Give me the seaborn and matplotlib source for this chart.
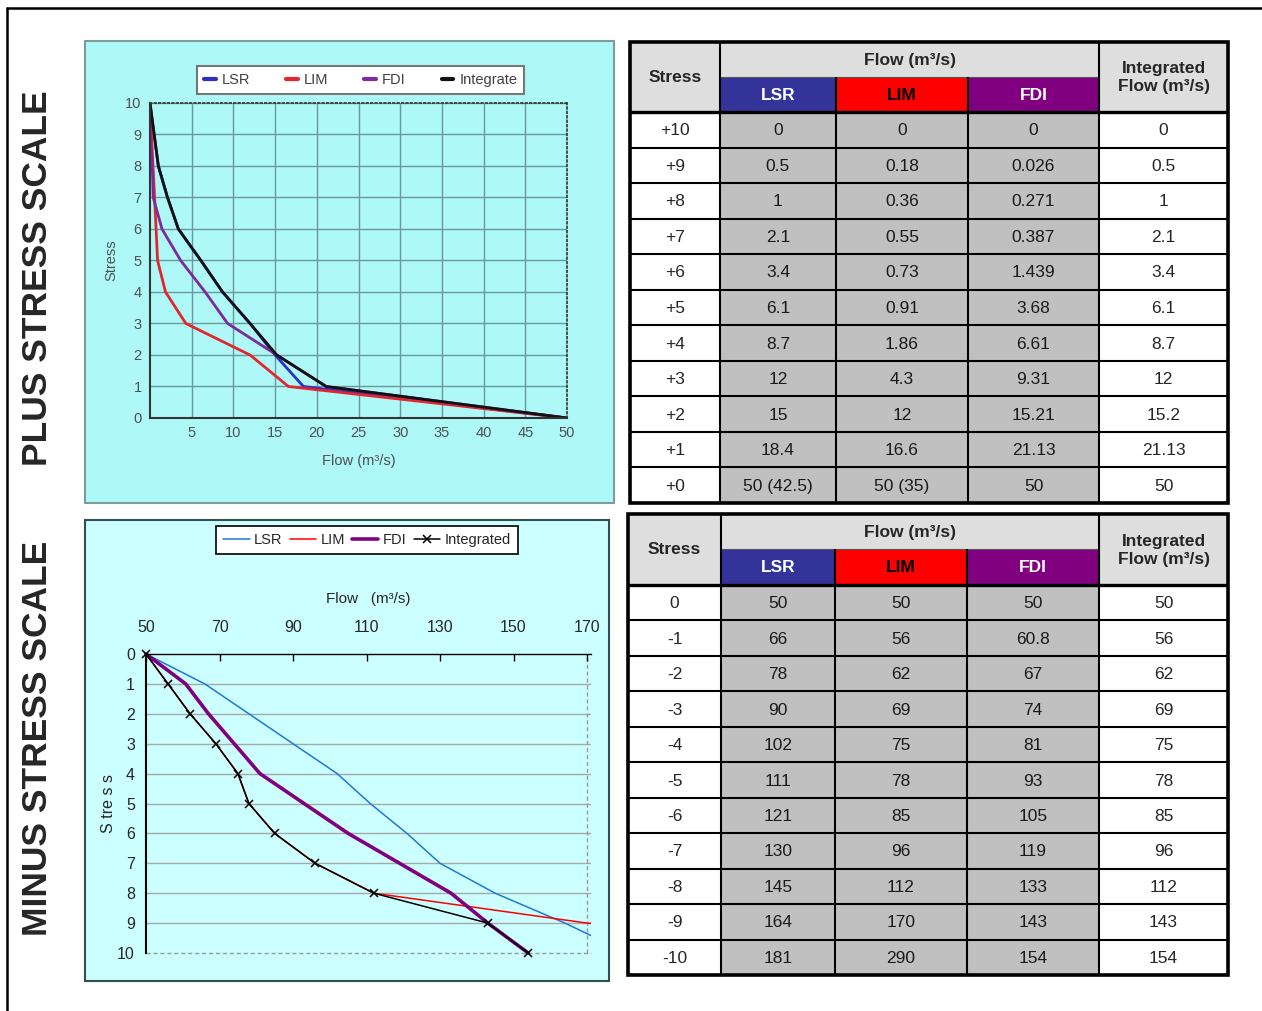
import matplotlib
matplotlib.use("Agg")
import matplotlib.pyplot as plt
import numpy as np
import pandas as pd
import seaborn as sns
from matplotlib.lines import Line2D
from matplotlib.patches import Rectangle
from matplotlib.ticker import MultipleLocator, FixedLocator

# ---------------------------------------------------------------------------
# Plus stress scale (table text; the leading number of each cell is plotted)
plus_stress = ["+10", "+9", "+8", "+7", "+6", "+5", "+4", "+3", "+2", "+1", "+0"]
plus_lsr = ["0", "0.5", "1", "2.1", "3.4", "6.1", "8.7", "12", "15", "18.4", "50 (42.5)"]
plus_lim = ["0", "0.18", "0.36", "0.55", "0.73", "0.91", "1.86", "4.3", "12", "16.6", "50 (35)"]
plus_fdi = ["0", "0.026", "0.271", "0.387", "1.439", "3.68", "6.61", "9.31", "15.21", "21.13", "50"]
plus_integrated = ["0", "0.5", "1", "2.1", "3.4", "6.1", "8.7", "12", "15.2", "21.13", "50"]

# Minus stress scale
minus_stress = ["0", "-1", "-2", "-3", "-4", "-5", "-6", "-7", "-8", "-9", "-10"]
minus_lsr = [50, 66, 78, 90, 102, 111, 121, 130, 145, 164, 181]
minus_lim = [50, 56, 62, 69, 75, 78, 85, 96, 112, 170, 290]
minus_fdi = [50, 60.8, 67, 74, 81, 93, 105, 119, 133, 143, 154]
minus_integrated = [50, 56, 62, 69, 75, 78, 85, 96, 112, 143, 154]

methods = ["LSR", "LIM", "FDI"]
plus_xticks = [5, 10, 15, 20, 25, 30, 35, 40, 45, 50]
plus_yticks = [0, 1, 2, 3, 4, 5, 6, 7, 8, 9, 10]
minus_xticks = [50, 70, 90, 110, 130, 150, 170]
minus_yticks = [0, 1, 2, 3, 4, 5, 6, 7, 8, 9, 10]
# ---------------------------------------------------------------------------

sns.set_style("white")
plt.rcParams["font.family"] = ["Liberation Sans", "DejaVu Sans"]
NARROW = ["Liberation Sans", "DejaVu Sans"]


def lead(s):
    return float(str(s).split()[0])


W, H = 1262, 1011
fig = plt.figure(figsize=(W / 100, H / 100), dpi=100)
fig.patch.set_facecolor("white")


def box(l, t, r, b):
    return [l / W, 1 - b / H, (r - l) / W, (b - t) / H]


def panel(l, t, r, b, fc, ec):
    fig.add_artist(Rectangle((l / W, 1 - b / H), (r - l) / W, (b - t) / H,
                             transform=fig.transFigure, fc=fc, ec=ec, lw=1.5, zorder=0))


# page frame
fig.add_artist(Line2D([7 / W, 1 / 1], [1 - 8 / H, 1 - 8 / H], transform=fig.transFigure,
                      color="black", lw=1.8))
fig.add_artist(Line2D([7 / W, 7 / W], [1 - 8 / H, 0], transform=fig.transFigure,
                      color="black", lw=1.8))

# side titles
fig.text(38 / W, 1 - 278 / H, "PLUS STRESS SCALE", rotation=90, ha="center", va="center",
         fontsize=25.5, fontweight="bold", family=NARROW)
fig.text(38 / W, 1 - 738 / H, "MINUS STRESS SCALE", rotation=90, ha="center", va="center",
         fontsize=25.5, fontweight="bold", family=NARROW)

# ------------------------------ plus chart ---------------------------------
TOP_BG = "#AEF8F8"
panel(85, 41, 614, 503, TOP_BG, "#7F9C9C")
ax1 = fig.add_axes(box(150, 103, 567, 418))
ax1.set_facecolor(TOP_BG)
plus_y = [abs(int(s)) for s in plus_stress]
top_series = [("LSR", plus_lsr, "#2F2FC8"), ("LIM", plus_lim, "#E3262B"),
              ("FDI", plus_fdi, "#7B2B9B"), ("Integrate", plus_integrated, "#111111")]
for name, vals, col in top_series:
    sns.lineplot(x=[lead(v) for v in vals], y=plus_y, ax=ax1, color=col, lw=2.0,
                 sort=False, estimator=None, legend=False)
ax1.set_xlim(0, 50)
ax1.set_ylim(0, 10)
ax1.xaxis.set_major_locator(FixedLocator(plus_xticks))
ax1.yaxis.set_major_locator(FixedLocator(plus_yticks))
ax1.xaxis.set_minor_locator(MultipleLocator(1))
ax1.yaxis.set_minor_locator(MultipleLocator(0.25))
ax1.grid(True, which="major", color="#6B9898", lw=1.0)
ax1.set_axisbelow(True)
ax1.tick_params(which="major", direction="inout", length=6, width=1.2, color="#333333",
                labelsize=10.5, labelcolor="#505050", pad=3)
ax1.tick_params(which="minor", direction="inout", length=3.5, width=1.0, color="#333333")
for s in ["left", "bottom"]:
    ax1.spines[s].set_color("#333333")
    ax1.spines[s].set_linewidth(1.5)
for s in ["top", "right"]:
    ax1.spines[s].set_color("#333333")
    ax1.spines[s].set_linewidth(1.2)
    ax1.spines[s].set_linestyle(":")
ax1.set_xlabel("Flow (m³/s)", fontsize=10.5, color="#505050", labelpad=10)
ax1.set_ylabel("Stress", fontsize=10.5, color="#505050", labelpad=5)
top_handles = [Line2D([], [], color=c, lw=3) for _, _, c in top_series]
leg1 = ax1.legend(top_handles, [n for n, _, _ in top_series], loc="center",
                  bbox_to_anchor=(190 / W, 1 - 95 / H, (531 - 190) / W, 30 / H),
                  bbox_transform=fig.transFigure, mode="expand", ncol=4,
                  handlelength=0.8, handletextpad=0.4, fancybox=False, framealpha=1,
                  edgecolor="#777777", fontsize=10.5, labelcolor="#404040", borderpad=0.45)
leg1.get_frame().set_linewidth(1.5)

# ------------------------------ minus chart --------------------------------
BOT_BG = "#CCFFFF"
panel(85, 520, 609, 981, BOT_BG, "#2F5050")
ax2 = fig.add_axes(box(146, 654, 590.7, 953))
ax2.set_facecolor(BOT_BG)
minus_y = [abs(int(s)) for s in minus_stress]
for v in minus_yticks[1:-1]:
    ax2.axhline(v, color="#A8A8A8", lw=1.0, zorder=0.5)
ax2.axhline(minus_yticks[-1], color="#9A9A9A", lw=1.0, ls=(0, (3, 2)), zorder=0.5, clip_on=False)
ax2.axvline(minus_xticks[-1], color="#9A9A9A", lw=1.0, ls=(0, (3, 2)), zorder=0.5)

bot_series = [("LSR", minus_lsr, "#1F78D6", 1.1, {}),
              ("LIM", minus_lim, "#FF0000", 1.1, {}),
              ("FDI", minus_fdi, "#800080", 2.6, {"clip_on": False}),
              ("Integrated", minus_integrated, "#000000", 1.1,
               {"marker": "x", "ms": 6, "mew": 1.1, "mec": "black", "clip_on": False})]
for name, vals, col, lw, kw in bot_series:
    sns.lineplot(x=vals, y=minus_y, ax=ax2, color=col, lw=lw, sort=False,
                 estimator=None, legend=False, **kw)
ax2.set_xlim(50, 171)
ax2.set_ylim(10, 0)
ax2.xaxis.tick_top()
ax2.xaxis.set_label_position("top")
ax2.xaxis.set_major_locator(FixedLocator(minus_xticks))
ax2.yaxis.set_major_locator(FixedLocator(minus_yticks))
ax2.tick_params(axis="x", direction="in", length=5, width=1, color="black", pad=14)
ax2.tick_params(axis="y", direction="in", length=0, pad=8)
for lab in ax2.get_xticklabels() + ax2.get_yticklabels():
    lab.set_family(NARROW)
    lab.set_fontsize(11.5)
ax2.spines["top"].set_color("black")
ax2.spines["top"].set_linewidth(1.0)
ax2.spines["left"].set_color("black")
ax2.spines["left"].set_linewidth(1.5)
ax2.spines["right"].set_visible(False)
ax2.spines["bottom"].set_visible(False)
ax2.set_xlabel("Flow   (m³/s)", fontsize=11, family=NARROW, labelpad=12)
ax2.set_ylabel("S tre s s", fontsize=11.5, family=NARROW, labelpad=1)
bot_handles = [Line2D([], [], color=c, lw=lw, **{k: v for k, v in kw.items() if k != "clip_on"})
               for _, _, c, lw, kw in bot_series]
leg2 = ax2.legend(bot_handles, [n for n, *_ in bot_series], loc="center",
                  bbox_to_anchor=((226 + 508) / 2 / W, 1 - 540 / H),
                  bbox_transform=fig.transFigure, ncol=4, handlelength=1.8,
                  handletextpad=0.3, columnspacing=0.5, fancybox=False, framealpha=1,
                  edgecolor="black", prop=dict(family=NARROW, size=10.5), borderpad=0.5)
leg2.get_frame().set_linewidth(1.2)

# --------------------------------- tables ----------------------------------
HEAD_BG = "#DEDEDE"
BODY_BG = "#C0C0C0"
METHOD_BG = {"LSR": "#333399", "LIM": "#FF0000", "FDI": "#800080"}
METHOD_FG = {"LSR": "white", "LIM": "black", "FDI": "white"}


def draw_table(rect_px, x, head_h, stress, columns, integrated):
    l, t, r, b = rect_px
    ax = fig.add_axes(box(l, t, r, b))
    tw, th = r - l, b - t
    ax.set_xlim(0, tw)
    ax.set_ylim(th, 0)
    ax.axis("off")
    h1, h2 = head_h
    n = len(stress)
    y0 = h1 + h2
    rh = (th - y0) / n

    def cell(cx, cy, w, h, fc):
        ax.add_patch(Rectangle((cx, cy), w, h, fc=fc, ec="none", zorder=1, clip_on=False))

    tkw = dict(ha="center", va="center", fontsize=12.5, zorder=5)
    cell(x[0], 0, x[1] - x[0], y0, HEAD_BG)
    cell(x[1], 0, x[4] - x[1], h1, HEAD_BG)
    cell(x[4], 0, x[5] - x[4], y0, HEAD_BG)
    ax.text((x[0] + x[1]) / 2, y0 / 2, "Stress", fontweight="bold", **tkw)
    ax.text((x[1] + x[4]) / 2, h1 / 2 + 1, "Flow (m³/s)", fontweight="bold", **tkw)
    ax.text((x[4] + x[5]) / 2, y0 / 2 + 1, "Integrated\nFlow (m³/s)", fontweight="bold",
            linespacing=1.25, **tkw)
    for j, name in enumerate(methods):
        cell(x[1 + j], h1, x[2 + j] - x[1 + j], h2, METHOD_BG[name])
        ax.text((x[1 + j] + x[2 + j]) / 2, h1 + h2 / 2 + 1, name, color=METHOD_FG[name],
                fontweight="bold", **tkw)
    for i in range(n):
        yy = y0 + i * rh
        cy = yy + rh / 2 + 1
        cell(x[0], yy, x[1] - x[0], rh, "white")
        cell(x[1], yy, x[4] - x[1], rh, BODY_BG)
        cell(x[4], yy, x[5] - x[4], rh, "white")
        ax.text((x[0] + x[1]) / 2, cy, stress[i], **tkw)
        for j, col in enumerate(columns):
            v = col[i]
            s = v if isinstance(v, str) else f"{v:g}"
            ax.text((x[1 + j] + x[2 + j]) / 2, cy, s, color="#1A1A1A", **tkw)
        v = integrated[i]
        s = v if isinstance(v, str) else f"{v:g}"
        ax.text((x[4] + x[5]) / 2, cy, s, **tkw)

    lkw = dict(color="black", zorder=3, clip_on=False, solid_capstyle="butt")
    for i in range(1, n):
        ax.plot([0, tw], [y0 + i * rh] * 2, lw=1.5, **lkw)
    ax.plot([0, tw], [y0, y0], lw=2.4, **lkw)
    ax.plot([x[1], x[4]], [h1, h1], lw=0.8, color="#555555", zorder=3, clip_on=False)
    for xv in (x[1], x[4]):
        ax.plot([xv, xv], [0, th], lw=1.5, **lkw)
    for xv in (x[2], x[3]):
        ax.plot([xv, xv], [h1, th], lw=1.5, **lkw)
    ax.add_patch(Rectangle((0, 0), tw, th, fill=False, ec="black", lw=2.6, zorder=4,
                           clip_on=False))


draw_table((630, 42, 1228, 503), [0, 90, 206, 338, 469, 598], (35, 35),
           plus_stress, [plus_lsr, plus_lim, plus_fdi], plus_integrated)
draw_table((628, 514, 1228, 975), [0, 93, 207, 339, 471, 600], (35, 36),
           minus_stress, [minus_lsr, minus_lim, minus_fdi], minus_integrated)

fig.savefig("out.png", dpi=100)
